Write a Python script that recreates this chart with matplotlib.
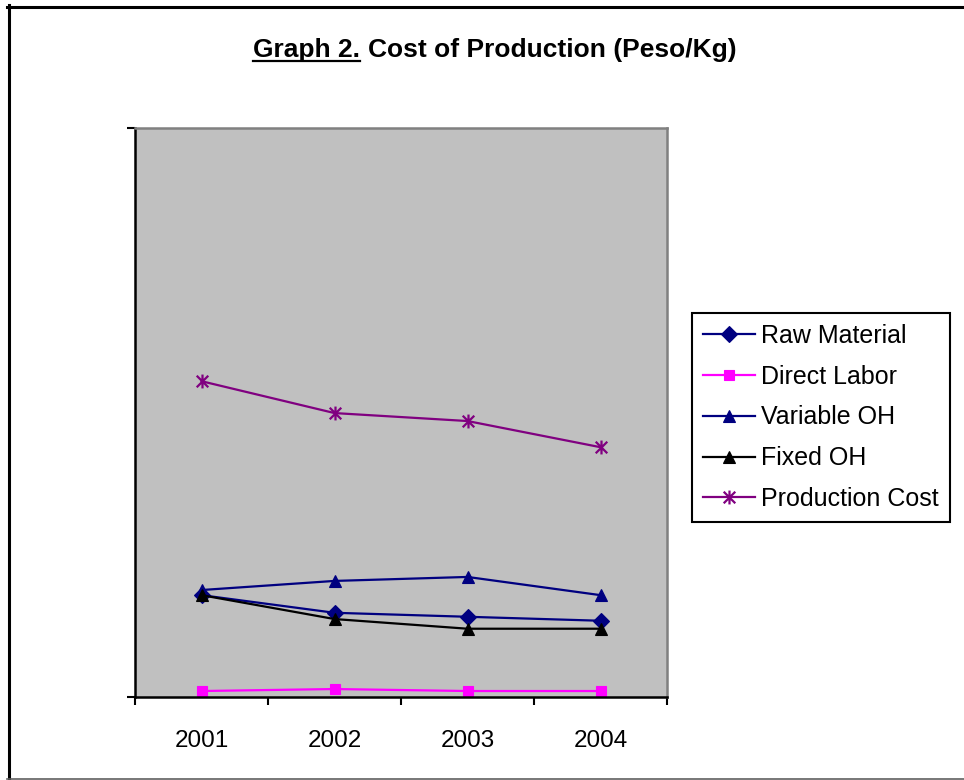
import matplotlib
matplotlib.use("Agg")
import matplotlib.pyplot as plt
from matplotlib.lines import Line2D
from matplotlib.path import Path

plt.rcParams["font.family"] = ["Liberation Sans", "DejaVu Sans"]

years = ["2001", "2002", "2003", "2004"]
raw_material = [17.9, 14.8, 14.1, 13.4]
direct_labor = [1.05, 1.4, 1.05, 1.05]
variable_oh = [18.8, 20.4, 21.1, 17.9]
fixed_oh = [17.9, 13.7, 12.0, 12.0]
production_cost = [55.5, 49.9, 48.5, 43.9]
y_max = 100

# Excel-style star: an X with a vertical bar through it
star = Path(
    [(-1, -1), (1, 1), (-1, 1), (1, -1), (0, -1.2), (0, 1.2)],
    [Path.MOVETO, Path.LINETO, Path.MOVETO, Path.LINETO, Path.MOVETO, Path.LINETO],
)

series = [
    ("Raw Material", raw_material, "#000080", "D", 8),
    ("Direct Labor", direct_labor, "#FF00FF", "s", 7),
    ("Variable OH", variable_oh, "#000080", "^", 9),
    ("Fixed OH", fixed_oh, "#000000", "^", 9),
    ("Production Cost", production_cost, "#800080", star, 10),
]

W, H = 964, 780
fig = plt.figure(figsize=(W / 100, H / 100), dpi=100)
ax = fig.add_axes([135 / W, (H - 697) / H, (667 - 135) / W, (697 - 128) / H])
ax.set_facecolor("#C0C0C0")

x = list(range(len(years)))
for label, vals, color, marker, ms in series:
    ax.plot(x, vals, color=color, lw=1.6, marker=marker, markersize=ms,
            markerfacecolor=color, markeredgecolor=color,
            markeredgewidth=1.6 if marker is star else 0.8, label=label)

ax.set_xlim(-0.5, len(years) - 0.5)
ax.set_ylim(0, y_max)
ax.set_xticks(x)
ax.set_xticklabels(years, fontsize=17.5)
ax.set_xticks([i - 0.5 for i in range(len(years) + 1)], minor=True)
ax.tick_params(axis="x", which="major", length=0, pad=24)
ax.tick_params(axis="x", which="minor", length=6, width=1.5, direction="out")
ax.set_yticks([0, y_max])
ax.set_yticklabels([])
ax.tick_params(axis="y", length=6, width=1.5, direction="out")

for side in ("left", "bottom"):
    ax.spines[side].set_color("black")
    ax.spines[side].set_linewidth(1.8)
for side in ("top", "right"):
    ax.spines[side].set_color("#808080")
    ax.spines[side].set_linewidth(1.8)

leg = fig.legend(loc="upper left", bbox_to_anchor=(692 / W, (H - 313) / H),
                 fontsize=18, frameon=True, fancybox=False, framealpha=1,
                 edgecolor="black", handlelength=2.08, handletextpad=0.24,
                 labelspacing=0.67, borderpad=0.44, borderaxespad=0)
leg.get_frame().set_linewidth(1.5)

# title, with the "Graph 2." part underlined
fig.text(253 / W, (H - 57) / H, "Graph 2.", fontsize=19, fontweight="bold",
         ha="left", va="baseline")
fig.text(368 / W, (H - 57) / H, "Cost of Production (Peso/Kg)", fontsize=19,
         fontweight="bold", ha="left", va="baseline")
fig.add_artist(Line2D([253 / W, 360 / W], [(H - 60.5) / H] * 2, color="black",
                      lw=1.6, transform=fig.transFigure))

# outer chart frame
fig.add_artist(Line2D([8.5 / W, 8.5 / W], [0, (H - 5) / H], color="black", lw=2.2,
                      transform=fig.transFigure))
fig.add_artist(Line2D([7 / W, 1], [(H - 6.5) / H] * 2, color="black", lw=2.2,
                      transform=fig.transFigure))
fig.add_artist(Line2D([7 / W, 1], [1.2 / H] * 2, color="#606060", lw=1.2,
                      transform=fig.transFigure))

fig.savefig("out.png", dpi=100)
